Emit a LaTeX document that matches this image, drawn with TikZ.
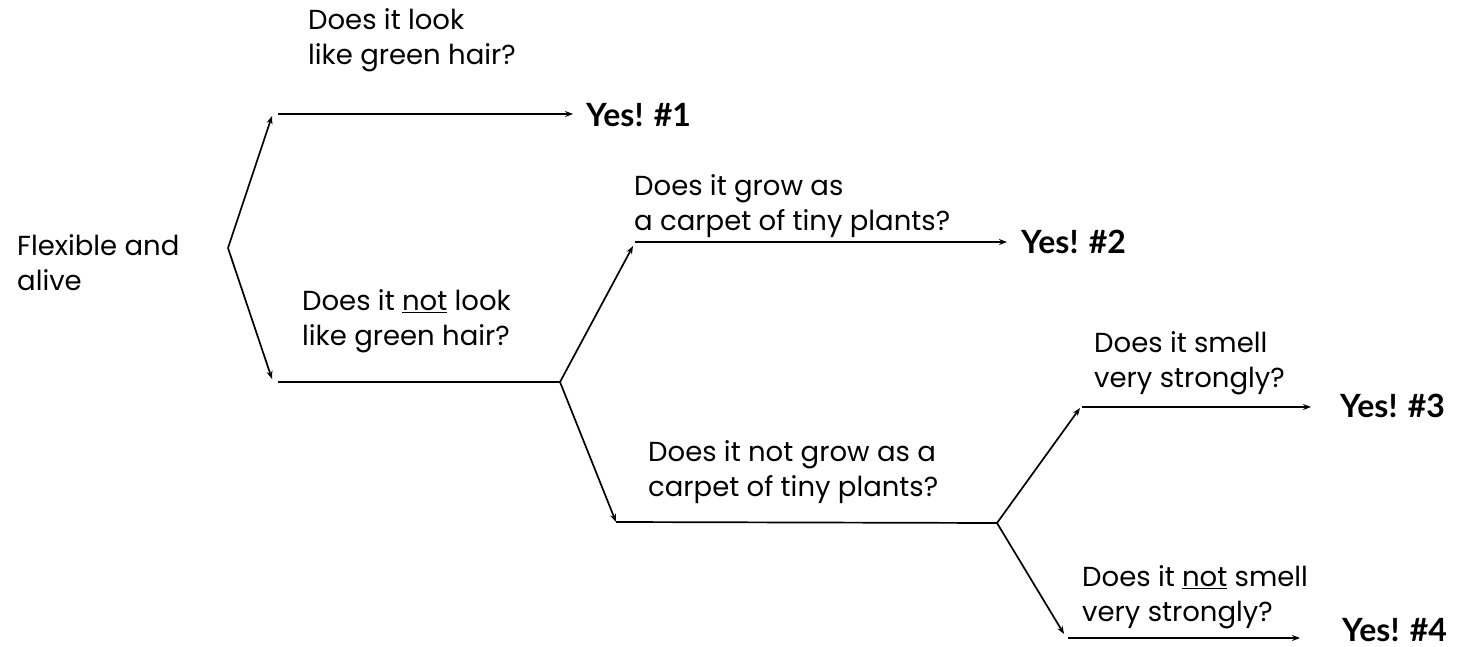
\documentclass[tikz,border=0pt]{standalone}
\usepackage{fontspec}
\setmainfont{Poppins}
\newfontfamily\yesfont{Lato}
\usetikzlibrary{arrows.meta}
\begin{document}
\begin{tikzpicture}[x=1pt,y=-1pt,
  q/.style={anchor=west,align=left,inner sep=0pt,font=\fontsize{27.5}{35}\selectfont},
  yes/.style={anchor=west,inner sep=0pt,font=\yesfont\bfseries\fontsize{32}{36}\selectfont},
  ln/.style={line width=1.7pt},
  arr/.style={line width=1.7pt,-{Stealth[length=8pt,width=6pt]}}]
\useasboundingbox (0,0) rectangle (1459,647);
% texts
\node[q] (root) at (17,263) {Flexible and\\alive};
\node[q] (l1) at (308,40) {Does it look\\like green hair?};
\node[q] (l2) at (302,321) {Does it \underline{not} look\\like green hair?};
\node[q] (l3) at (634,206) {Does it grow as\\a carpet of tiny plants?};
\node[q] (l4) at (648,472) {Does it not grow as a\\carpet of tiny plants?};
\node[q] (l5) at (1094,363) {Does it smell\\very strongly?};
\node[q] (l6) at (1082,597) {Does it \underline{not} smell\\very strongly?};
\node[yes] (y1) at (586,115) {Yes! \#1};
\node[yes] (y2) at (1021,242) {Yes! \#2};
\node[yes] (y3) at (1340,406) {Yes! \#3};
\node[yes] (y4) at (1342,630) {Yes! \#4};
% points
\coordinate (v0) at (228,248);
\coordinate (t1) at (272,116);
\coordinate (h1) at (278,114);
\coordinate (e1) at (573,114);
\coordinate (t2) at (272,379);
\coordinate (h2) at (278,382);
\coordinate (v1) at (560,382);
\coordinate (t3) at (633,246);
\coordinate (h3) at (635,242);
\coordinate (e3) at (1007,242);
\coordinate (t4) at (616,522);
\coordinate (v2) at (997,523);
\coordinate (t5) at (1080,408);
\coordinate (h5) at (1082,407);
\coordinate (e5) at (1311,407);
\coordinate (t6) at (1064,634);
\coordinate (h6) at (1068,638);
\coordinate (e6) at (1300,638);
% connectors
\draw[arr] (v0) -- (t1);
\draw[arr] (h1) -- (e1);
\draw[arr] (v0) -- (t2);
\draw[ln] (h2) -- (v1);
\draw[arr] (v1) -- (t3);
\draw[arr] (h3) -- (e3);
\draw[arr] (v1) -- (t4);
\draw[ln] (t4) -- (v2);
\draw[arr] (v2) -- (t5);
\draw[arr] (h5) -- (e5);
\draw[arr] (v2) -- (t6);
\draw[arr] (h6) -- (e6);
\end{tikzpicture}
\end{document}
